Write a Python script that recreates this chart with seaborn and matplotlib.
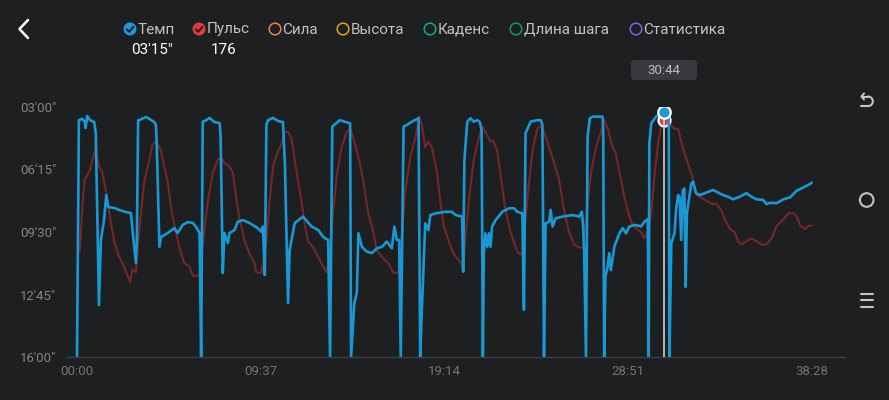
import matplotlib
matplotlib.use("Agg")
import matplotlib.pyplot as plt
from matplotlib.patches import Circle, FancyBboxPatch
from matplotlib.lines import Line2D
from matplotlib.transforms import IdentityTransform
import numpy as np
import pandas as pd
import seaborn as sns

# Темп: время (с) и темп (с/км)
pace_t = [0, 6, 16, 24, 27, 32, 41, 54, 59, 69, 75, 85, 92, 98, 117, 132, 154, 169, 185, 188,
          192, 195, 217, 243, 248, 250, 259, 264, 285, 306, 316, 332, 348, 364, 374, 385, 390, 395,
          406, 416, 432, 448, 451, 458, 463, 474, 479, 495, 505, 521, 542, 568, 579, 584, 590, 595,
          600, 616, 632, 647, 653, 663, 668, 684, 710, 737, 758, 773, 789, 795, 802, 826, 858, 861,
          871, 879, 884, 895, 910, 926, 942, 958, 973, 989, 997, 1005, 1012, 1017, 1026, 1036, 1052,
          1073, 1078, 1084, 1094, 1104, 1110, 1126, 1157, 1178, 1189, 1210, 1213, 1217, 1226, 1236,
          1246, 1257, 1265, 1271, 1275, 1278, 1283, 1289, 1294, 1299, 1304, 1315, 1336, 1357, 1373,
          1383, 1399, 1404, 1409, 1425, 1446, 1457, 1462, 1467, 1472, 1483, 1488, 1494, 1504, 1525,
          1557, 1578, 1586, 1590, 1593, 1599, 1604, 1611, 1620, 1651, 1653, 1656, 1660, 1667, 1672,
          1677, 1688, 1704, 1714, 1725, 1735, 1751, 1767, 1772, 1782, 1793, 1796, 1798, 1804, 1819,
          1835, 1844, 1859, 1861, 1867, 1877, 1882, 1888, 1893, 1898, 1903, 1908, 1912, 1916, 1922,
          1930, 1935, 1945, 1956, 1977, 1998, 2014, 2030, 2045, 2061, 2082, 2103, 2119, 2135, 2156,
          2166, 2177, 2198, 2219, 2240, 2261, 2282, 2303, 2308]
pace = [960, 221, 217, 224, 246, 208, 221, 227, 261, 798, 595, 533, 455, 492, 495, 501, 508, 511, 667, 595,
        221, 221, 211, 227, 236, 283, 616, 586, 573, 558, 573, 548, 539, 542, 554, 573, 960, 226,
        221, 214, 227, 230, 267, 698, 573, 604, 573, 564, 538, 533, 542, 558, 569, 553, 704, 236,
        221, 214, 224, 227, 355, 792, 626, 542, 522, 553, 564, 585, 595, 960, 241, 221, 231, 960,
        793, 760, 574, 616, 631, 636, 621, 616, 600, 621, 553, 595, 595, 960, 241, 236, 226,
        215, 960, 793, 543, 564, 517, 512, 507, 507, 517, 522, 694, 345, 226, 215,
        226, 221, 226, 252, 960, 636, 574, 616, 574, 616, 553, 533, 507, 496, 496,
        507, 512, 813, 262, 226, 221, 221, 236, 960, 543, 538, 501, 553, 527, 522,
        517, 522, 507, 553, 626, 960, 273, 215, 210, 210, 252, 960, 709, 678, 636,
        689, 616, 574, 558, 574, 553, 548, 551, 553, 538, 530, 960, 293, 231, 210,
        200, 195, 199, 960, 605, 574, 501, 455, 460, 595, 439, 434, 741, 512, 470,
        418, 413, 449, 455, 447, 439, 447, 455, 460, 468, 460, 449, 460, 468, 470,
        483, 479, 480, 468, 462, 441, 431, 420, 416]

# Пульс: время (с) и уд/мин
hr_t = [9, 17, 24, 32, 41, 54, 59, 64, 69, 80, 85, 96, 106, 117, 132, 143, 159, 167, 174, 185,
        195, 211, 227, 237, 248, 264, 274, 285, 295, 306, 322, 337, 353, 364, 374, 385, 395, 411,
        427, 442, 453, 463, 479, 490, 500, 511, 527, 542, 558, 563, 579, 595, 605, 616, 632, 642,
        653, 663, 674, 684, 695, 705, 716, 726, 742, 758, 773, 784, 795, 805, 816, 831, 847, 858,
        868, 884, 900, 915, 931, 942, 958, 978, 994, 1010, 1021, 1031, 1047, 1063, 1075, 1084,
        1094, 1104, 1115, 1131, 1141, 1152, 1168, 1183, 1199, 1212, 1220, 1231, 1246, 1262, 1273,
        1283, 1299, 1309, 1320, 1331, 1346, 1362, 1378, 1388, 1399, 1409, 1420, 1431, 1446, 1457,
        1467, 1483, 1499, 1514, 1530, 1546, 1562, 1578, 1590, 1599, 1615, 1630, 1646, 1656, 1667,
        1683, 1693, 1704, 1720, 1735, 1746, 1757, 1772, 1782, 1793, 1804, 1814, 1825, 1835, 1844,
        1867, 1877, 1888, 1903, 1919, 1935, 1945, 1961, 1977, 1993, 2008, 2024, 2035, 2051, 2066,
        2077, 2087, 2103, 2119, 2135, 2150, 2166, 2182, 2198, 2219, 2235, 2250, 2261, 2272, 2288,
        2298, 2308]
hr = [134, 148, 157, 158, 160, 165, 168, 163, 161, 159, 156, 150, 143, 137, 132, 130, 126, 124, 128, 127,
      140, 156, 163, 168, 169, 166, 161, 156, 148, 142, 135, 130, 129, 126, 126, 126, 136, 150,
      159, 163, 164, 162, 161, 159, 151, 144, 137, 133, 130, 127, 127, 137, 150, 161, 166, 168,
      172, 172, 170, 163, 156, 150, 142, 137, 135, 132, 129, 127, 135, 147, 158, 167, 172, 173,
      170, 164, 156, 146, 140, 134, 132, 130, 127, 127, 140, 153, 164, 170, 177, 174,
      167, 169, 167, 159, 150, 142, 137, 133, 131, 129, 138, 150, 163, 170, 174,
      172, 169, 169, 166, 158, 147, 140, 135, 133, 133, 144, 156, 166, 173, 174,
      172, 167, 162, 157, 147, 140, 136, 135, 135, 145, 159, 167, 172, 176, 173,
      167, 165, 159, 151, 145, 142, 141, 140, 138, 140, 146, 158, 168, 174, 176,
      174, 173, 173, 167, 162, 157, 152, 151, 150, 149, 149, 147, 144, 141, 140,
      137, 136, 137, 138, 137, 136, 136, 138, 142, 144, 146, 146, 145, 142, 141,
      142, 142]

x_ticks = [0, 577, 1154, 1731, 2308]
x_labels = ["00:00", "09:37", "19:14", "28:51", "38:28"]
y_ticks = [180, 375, 570, 765, 960]
y_labels = ["03'00\"", "06'15\"", "09'30\"", "12'45\"", "16'00\""]

legend_names = ["Темп", "Пульс", "Сила", "Высота", "Каденс", "Длина шага", "Статистика"]
legend_colors = ["#1d9ad6", "#e03a3d", "#e8854d", "#e6a21c", "#15a98a", "#12966a", "#8a5ce6"]
legend_on = [True, True, False, False, False, False, False]

cursor_time = "30:44"
cursor_t = 1844
cursor_pace = "03'15\""
cursor_pace_s = 195
cursor_hr = 176

BG = "#1e1f21"
BLUE = "#1899d6"
RED = "#742729"
W, H = 889, 400

sns.set_theme(style="dark", rc={"axes.facecolor": BG, "figure.facecolor": BG})
plt.rcParams["font.family"] = ["Roboto", "DejaVu Sans"]

fig = plt.figure(figsize=(W / 100, H / 100), dpi=100)
ax = fig.add_axes([67 / W, 1 - 357 / H, (845 - 67) / W, (357 - 107) / H])
ax2 = ax.twinx()
ax2.set_zorder(ax.get_zorder() - 1)
ax.patch.set_visible(False)
ax2.patch.set_facecolor(BG)

df_pace = pd.DataFrame({"t": pace_t, "pace": pace})
df_hr = pd.DataFrame({"t": hr_t, "hr": hr})

sns.lineplot(data=df_hr, x="t", y="hr", ax=ax2, color=RED, lw=1.5, estimator=None)
sns.lineplot(data=df_pace, x="t", y="pace", ax=ax, color=BLUE, lw=1.9, estimator=None)

ax.set_xlim(-10 / 0.31833, (845 - 77) / 0.31833)
ax.set_ylim(960, 180)
ax2.set_ylim(100, 180)

ax.set_xticks(x_ticks)
ax.set_xticklabels(x_labels)
ax.set_yticks(y_ticks)
ax.set_yticklabels(y_labels)
ax.tick_params(axis="y", length=0, pad=33.8, labelcolor="#858585", labelsize=9.5)
ax.tick_params(axis="x", length=0, pad=6, labelcolor="#747474", labelsize=9.5)
for lbl in ax.get_yticklabels():
    lbl.set_ha("left")
ax.set_xlabel("")
ax.set_ylabel("")
ax2.set_ylabel("")
ax2.set_yticks([])
for a in (ax, ax2):
    for s in ("top", "left", "right", "bottom"):
        a.spines[s].set_visible(False)
ax.spines["bottom"].set_visible(True)
ax.spines["bottom"].set_color("#3e3f42")
ax.spines["bottom"].set_linewidth(1)

# курсор
ax.plot([cursor_t, cursor_t], [cursor_pace_s, 960], color="#c9d2d6", lw=1.2, zorder=4)
ax2.scatter([cursor_t], [cursor_hr], s=75, color="#e03a3d", edgecolor="white", linewidth=1.6, zorder=6)
ax.scatter([cursor_t], [cursor_pace_s], s=80, color="#1d9ad6", edgecolor="white", linewidth=1.6, zorder=6)


def fx(x):
    return x / W


def fy(y):
    return 1 - y / H


def pline(xs, ys, color, lw):
    fig.add_artist(Line2D(list(xs), [H - y for y in ys], transform=IdentityTransform(),
                          color=color, lw=lw, solid_capstyle="round", solid_joinstyle="round"))


# подсказка со временем
fig.add_artist(FancyBboxPatch((631, H - 80), 66, 20, boxstyle="round,pad=0,rounding_size=4",
                              transform=IdentityTransform(), facecolor="#38393c", edgecolor="none"))
fig.text(fx(664), fy(70), cursor_time, color="#bdbdbd", fontsize=9.5, ha="center", va="center")

# легенда
icon_x = [130, 199, 275, 343, 430, 516, 636]
for cx, name, col, on in zip(icon_x, legend_names, legend_colors, legend_on):
    if on:
        fig.add_artist(Circle((cx, H - 29), 6.5, transform=IdentityTransform(),
                              facecolor=col, edgecolor="none"))
        pline([cx - 3.2, cx - 0.8, cx + 3.4], [29.3, 31.8, 26.8], "#1e1f21", 1.4)
    else:
        fig.add_artist(Circle((cx, H - 29), 5.8, transform=IdentityTransform(),
                              facecolor="none", edgecolor=col, lw=1.1))
    fig.text(fx(cx + 7.5), fy(29.5), name, color="#c2c2c2", fontsize=11, ha="left", va="center")

fig.text(fx(152), fy(50), cursor_pace, color="white", fontsize=11, ha="center", va="center")
fig.text(fx(224), fy(50), str(cursor_hr), color="white", fontsize=11, ha="center", va="center")

# кнопка назад
pline([28, 19.5, 28], [20, 29, 38], "white", 1.8)

# иконки справа
ICON = "#c4c4c4"
pline([864, 861.5, 864], [93.5, 96.5, 99.5], ICON, 1.5)
pline([861.5, 868], [96.5, 96.5], ICON, 1.5)
ang = np.linspace(np.pi / 2, -np.pi / 2, 20)
pline(868 + 4.8 * np.cos(ang), 101.3 - 4.8 * np.sin(ang), ICON, 1.5)
pline([868, 860.5], [106.1, 106.1], ICON, 1.5)
fig.add_artist(Circle((866.7, H - 200), 6.8, transform=IdentityTransform(),
                      facecolor="none", edgecolor=ICON, lw=1.5))
for yy in (293.5, 300, 306.5):
    pline([860.5, 872.5], [yy, yy], ICON, 1.5)

fig.savefig("out.png", dpi=100, facecolor=BG)
